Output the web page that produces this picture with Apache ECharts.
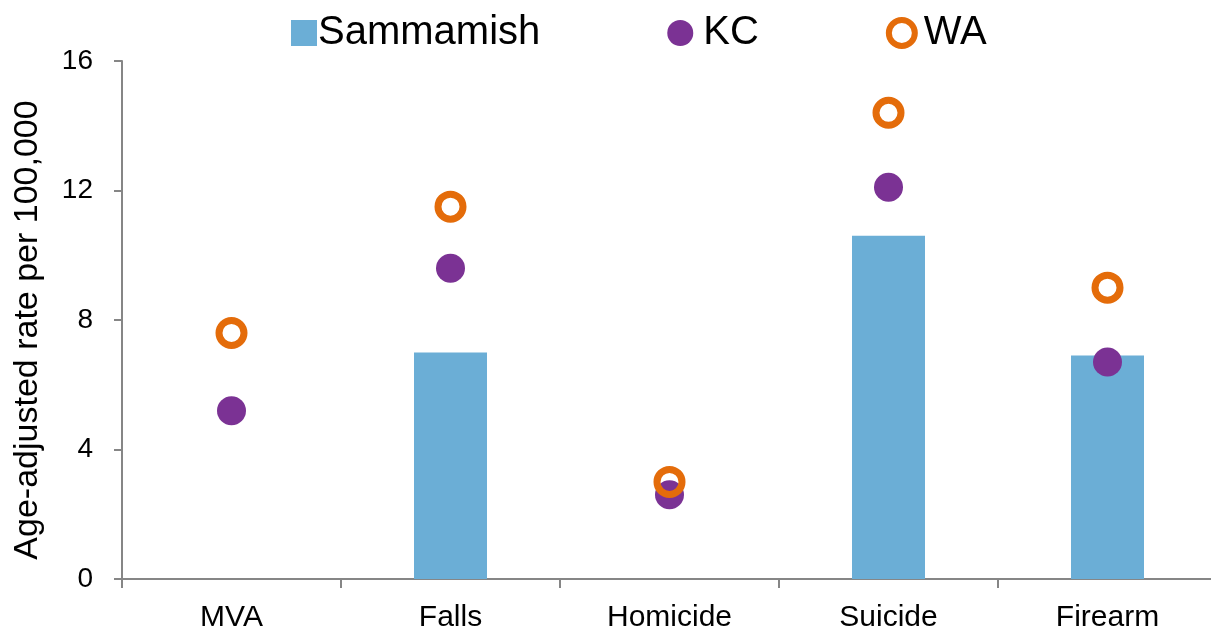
<!DOCTYPE html>
<html>
<head>
<meta charset="utf-8">
<script src="https://cdn.jsdelivr.net/npm/echarts@6/dist/echarts.min.js"></script>
<style>
  html, body { margin: 0; padding: 0; background: #fff; }
  #chart { width: 1211px; height: 634px; }
</style>
</head>
<body>
<div id="chart"></div>
<script>
// injury death rates, age-adjusted per 100,000
var categories = ['MVA', 'Falls', 'Homicide', 'Suicide', 'Firearm'];
var sammamish = [null, 7.0, null, 10.6, 6.9];
var kc = [5.2, 9.6, 2.6, 12.1, 6.7];
var wa = [7.6, 11.5, 3.0, 14.4, 9.0];
var yTicks = [0, 4, 8, 12, 16];

var axisColor = '#868686';
var fontName = 'Liberation Sans';

var chart = echarts.init(document.getElementById('chart'));

var option = {
  animation: false,
  textStyle: { fontFamily: fontName },
  legend: {
    left: 286,
    top: 8,
    itemWidth: 26,
    itemHeight: 26,
    itemGap: 127,
    textStyle: { fontSize: 40, color: '#000', fontFamily: fontName },
    data: [
      { name: 'Sammamish', icon: 'rect', itemWidth: 24, itemHeight: 24, textStyle: { padding: [0, 0, 0, -4] } },
      { name: 'KC', icon: 'circle', textStyle: { padding: [0, 0, 0, 5] } },
      { name: 'WA', icon: 'circle', textStyle: { padding: [0, 0, 0, 4] },
        itemStyle: { color: 'rgba(0,0,0,0)', borderColor: '#E46C0A', borderWidth: 6 } }
    ]
  },
  grid: {
    left: 122,
    top: 61,
    width: 1095,
    height: 518,
    outerBoundsMode: 'none',
    containLabel: false
  },
  xAxis: {
    type: 'category',
    data: categories,
    boundaryGap: true,
    axisLine: { lineStyle: { color: axisColor, width: 2 } },
    axisTick: { show: true, length: 9, lineStyle: { color: axisColor, width: 2 } },
    axisLabel: { fontSize: 30, color: '#000', margin: 24 }
  },
  yAxis: {
    type: 'value',
    min: yTicks[0],
    max: yTicks[yTicks.length - 1],
    interval: 4,
    name: 'Age-adjusted rate per 100,000',
    nameLocation: 'middle',
    nameGap: 77,
    nameTextStyle: { fontSize: 34, color: '#000', fontFamily: fontName, padding: [0, 0, 0, -20] },
    axisLine: { show: true, lineStyle: { color: axisColor, width: 2 } },
    axisTick: { show: true, length: 8, lineStyle: { color: axisColor, width: 2 } },
    axisLabel: { fontSize: 28, color: '#000', margin: 29 },
    splitLine: { show: false }
  },
  series: [
    {
      name: 'Sammamish',
      type: 'bar',
      data: sammamish,
      barWidth: 73,
      itemStyle: { color: '#6BAED6' }
    },
    {
      name: 'KC',
      type: 'scatter',
      data: kc,
      symbol: 'circle',
      symbolSize: 29,
      itemStyle: { color: '#7B3294', opacity: 1 },
      z: 3
    },
    {
      name: 'WA',
      type: 'scatter',
      data: wa,
      symbol: 'circle',
      symbolSize: 25,
      itemStyle: { color: 'rgba(0,0,0,0)', borderColor: '#E46C0A', borderWidth: 7, opacity: 1 },
      z: 4
    }
  ]
};

chart.setOption(option);
</script>
</body>
</html>
